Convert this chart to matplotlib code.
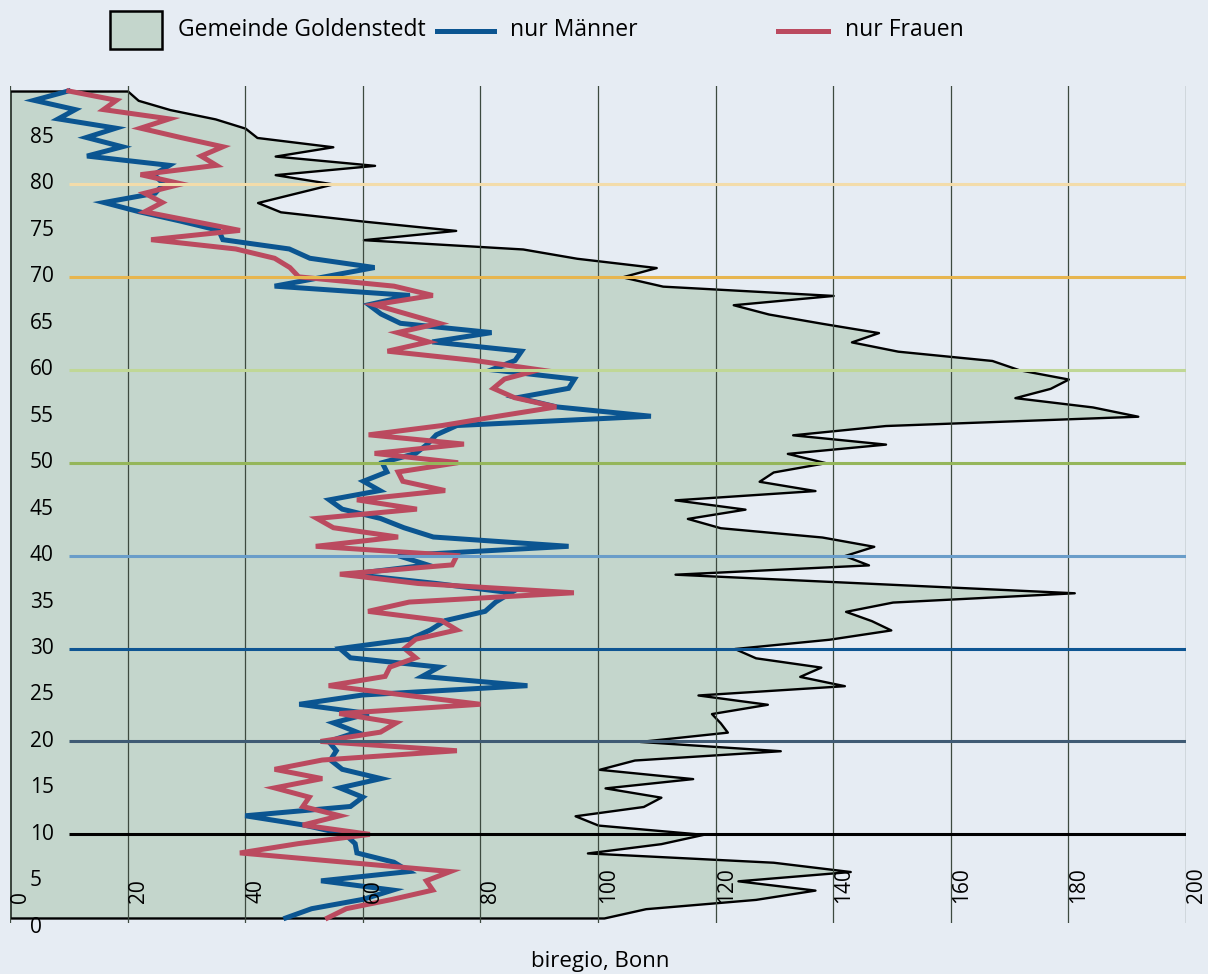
import numpy as np
import matplotlib
matplotlib.use("Agg")
import matplotlib.pyplot as plt
from matplotlib.patches import Rectangle
from matplotlib.lines import Line2D
import matplotlib.transforms as mtransforms

plt.rcParams['font.family'] = ['Open Sans', 'DejaVu Sans']

# age rows, bottom to top
alter = np.arange(1, 91)

gesamt = [101.0, 108.1, 126.8, 136.9, 123.8, 142.9, 129.8, 98.2, 110.7, 117.9,
          100.0, 96.1, 107.7, 110.7, 101.2, 116.1, 100.2, 106.2, 131.0, 107.1,
          122.0, 120.8, 119.3, 128.8, 117.0, 141.9, 134.3, 137.9, 126.8, 123.2,
          139.3, 149.8, 146.5, 142.1, 150.1, 181.0, 147.0, 113.1, 146.0, 141.9,
          146.9, 138.1, 120.8, 115.2, 125.0, 113.1, 136.9, 127.4, 129.8, 138.7,
          132.2, 148.9, 133.1, 148.9, 191.8, 184.1, 170.9, 176.9, 180.0, 171.6,
          167.0, 151.0, 143.1, 147.7, 138.1, 129.0, 123.0, 140.0, 111.0, 104.1,
          109.9, 96.4, 87.2, 60.1, 75.8, 60.1, 46.0, 42.1, 48.5, 54.9,
          45.1, 62.0, 45.1, 54.9, 42.0, 40.0, 34.9, 27.2, 21.8, 20.0]

maenner = [46.9, 51.3, 60.0, 65.1, 52.9, 67.9, 65.3, 59.0, 58.7, 57.0,
           50.0, 40.0, 57.9, 60.0, 56.1, 63.1, 56.5, 54.5, 55.5, 54.2,
           59.0, 55.0, 61.0, 49.2, 60.0, 88.0, 70.1, 73.0, 57.9, 56.1,
           68.0, 71.5, 74.0, 80.8, 82.6, 85.2, 72.5, 58.0, 71.0, 66.0,
           95.0, 72.0, 67.0, 63.0, 56.5, 54.3, 62.9, 60.1, 64.1, 63.3,
           69.0, 71.0, 72.5, 76.0, 109.0, 93.0, 86.3, 95.0, 96.0, 81.9,
           85.9, 87.0, 71.8, 81.9, 66.4, 63.1, 61.0, 68.0, 45.0, 53.5,
           62.0, 51.0, 47.5, 36.2, 35.5, 29.0, 22.0, 16.0, 24.7, 26.1,
           24.5, 27.1, 13.1, 19.1, 13.0, 18.0, 8.2, 11.1, 4.1, 9.9]

frauen = [54.0, 57.2, 65.0, 71.9, 70.8, 74.9, 57.0, 39.1, 49.0, 61.2,
          49.8, 56.1, 49.8, 50.9, 45.0, 53.1, 45.0, 53.1, 76.0, 52.8,
          63.0, 65.7, 56.0, 80.0, 67.0, 54.2, 63.8, 64.6, 69.0, 67.1,
          69.0, 76.0, 73.4, 60.9, 67.9, 95.9, 69.4, 56.1, 75.2, 76.0,
          52.0, 66.0, 55.0, 52.2, 69.2, 59.0, 74.0, 66.8, 66.0, 76.2,
          62.0, 77.2, 61.0, 73.5, 83.0, 92.9, 85.8, 82.2, 84.1, 90.0,
          79.0, 64.2, 71.2, 65.9, 73.0, 67.5, 62.0, 71.9, 65.3, 49.1,
          47.6, 45.0, 38.4, 24.0, 39.1, 31.0, 22.9, 25.9, 22.9, 29.2,
          22.2, 35.1, 32.5, 36.2, 29.0, 22.2, 27.1, 15.9, 18.1, 10.0]

x_ticks = list(range(0, 201, 20))
y_ticks = list(range(0, 90, 5))
ref_ages = [10, 20, 30, 40, 50, 60, 70, 80]
ref_colors = ['#000000', '#405b74', '#0e5592', '#6a9dc9',
              '#95b65a', '#c0d796', '#e7b54e', '#f3dcaa']

bg = '#e6ecf3'
fill_col = '#c4d6cc'
blue = '#0b5591'
red = '#bb4a5f'

W, H = 1208, 974
fig = plt.figure(figsize=(W / 100, H / 100), dpi=100, facecolor=bg)
ax = fig.add_axes([10 / W, 1 - 923 / H, 1176 / W, 837 / H])
ax.set_facecolor(bg)

ax.fill_betweenx(alter, 0, gesamt, facecolor=fill_col, edgecolor='black',
                 linewidth=1.7, zorder=1)
for xv in x_ticks:
    ax.axvline(xv, color='#3d4a3f', linewidth=0.9, zorder=2)
ax.plot(maenner, alter, color=blue, linewidth=3.6, solid_joinstyle='miter', zorder=3)
ax.plot(frauen, alter, color=red, linewidth=3.6, solid_joinstyle='miter', zorder=4)
for v, c in zip(ref_ages, ref_colors):
    ax.hlines(v, 10, 200, color=c, linewidth=2.2, zorder=5)

ax.set_xlim(0, 200)
ax.set_ylim(0.46, 90.54)
ax.set_xticks([])
ax.set_yticks([])
for s in ax.spines.values():
    s.set_visible(False)

# labels sit inside the plot
trans_x = mtransforms.blended_transform_factory(ax.transData, ax.transAxes)
for xv in x_ticks:
    ax.text(xv, 0.024, str(xv), transform=trans_x, rotation=90, ha='left',
            va='bottom', fontsize=15, zorder=6)
trans_y = mtransforms.blended_transform_factory(ax.transAxes, ax.transData)
for yv in y_ticks:
    ax.text(0.017, yv, str(yv), transform=trans_y, ha='left', va='center',
            fontsize=15, zorder=6, clip_on=False)

# legend, placed by hand like the original
def fx(px):
    return px / W

def fy(py):
    return 1 - py / H

fig.add_artist(Rectangle((fx(110), fy(49)), 52 / W, 38 / H, facecolor=fill_col,
                         edgecolor='black', linewidth=1.8, transform=fig.transFigure))
fig.text(fx(178), fy(30), 'Gemeinde Goldenstedt', fontsize=16.5, va='center')
fig.add_artist(Line2D([fx(437), fx(494)], [fy(31), fy(31)], color=blue,
                      linewidth=3.6, transform=fig.transFigure))
fig.text(fx(510), fy(30), 'nur Männer', fontsize=16.5, va='center')
fig.add_artist(Line2D([fx(778), fx(828)], [fy(31), fy(31)], color=red,
                      linewidth=3.6, transform=fig.transFigure))
fig.text(fx(845), fy(30), 'nur Frauen', fontsize=16.5, va='center')

fig.text(fx(600), fy(962), 'biregio, Bonn', fontsize=16, ha='center', va='center')

fig.savefig('out.png', dpi=100, facecolor=bg)
